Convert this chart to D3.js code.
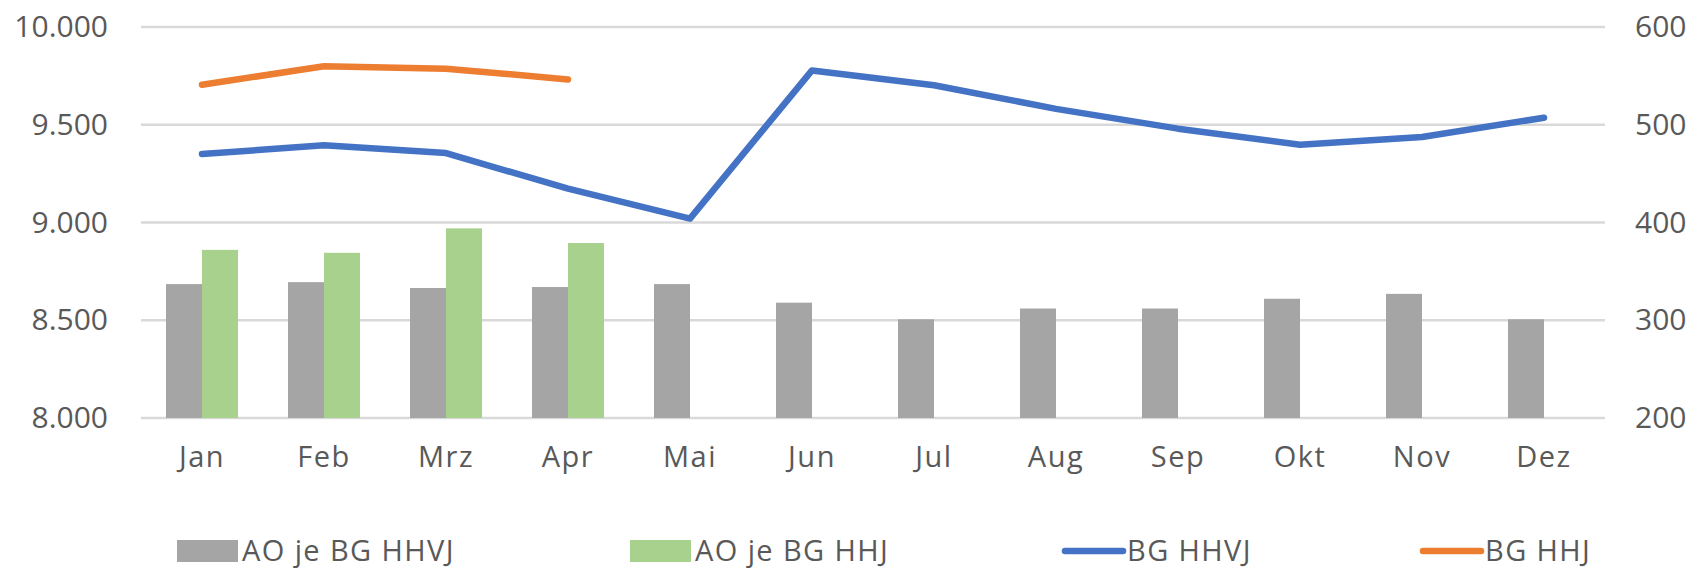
<!DOCTYPE html>
<html>
<head>
<meta charset="utf-8">
<script src="https://cdn.jsdelivr.net/npm/d3@7"></script>
<style>
  body { margin: 0; background: #fff; }
  text { font-family: "Open Sans", sans-serif; fill: #595959; }
</style>
</head>
<body>
<div class="canva"></div>
<script>
// daten
const monate = ['Jan','Feb','Mrz','Apr','Mai','Jun','Jul','Aug','Sep','Okt','Nov','Dez'];
const aoHHVJ = [337, 339, 333, 334, 337, 318, 301, 312, 312, 322, 327, 301];
const aoHHJ  = [372, 369, 394, 379, null, null, null, null, null, null, null, null];
const bgHHVJ = [9350, 9395, 9355, 9173, 9020, 9778, 9702, 9581, 9480, 9398, 9437, 9536];
const bgHHJ  = [9705, 9799, 9787, 9732, null, null, null, null, null, null, null, null];
const leftTicks  = [8000, 8500, 9000, 9500, 10000];
const rightTicks = [200, 300, 400, 500, 600];
const legende = ['AO je BG HHVJ', 'AO je BG HHJ', 'BG HHVJ', 'BG HHJ'];

const W = 1690, H = 568;
const m = {left: 141, right: 85, top: 27, bottom: 150};

const svg = d3.select('.canva').append('svg')
  .attr('width', W)
  .attr('height', H);

const x = d3.scaleBand()
  .domain(monate)
  .range([m.left, W - m.right])
  .paddingInner(0.41)
  .paddingOuter(0.205);

const xs = d3.scaleBand()
  .domain(['hhvj', 'hhj'])
  .range([0, x.bandwidth()]);

const yL = d3.scaleLinear().domain([8000, 10000]).range([H - m.bottom, m.top]);
const yR = d3.scaleLinear().domain([200, 600]).range([H - m.bottom, m.top]);

const de = d3.formatLocale({decimal: ',', thousands: '.', grouping: [3], currency: ['', '€']});

// gitterlinien
svg.append('g')
  .selectAll('line')
  .data(leftTicks)
  .enter()
  .append('line')
  .attr('x1', m.left)
  .attr('x2', W - m.right)
  .attr('y1', d => yL(d))
  .attr('y2', d => yL(d))
  .attr('stroke', '#d9d9d9')
  .attr('stroke-width', 2.5);

// achse links
const axL = svg.append('g')
  .attr('transform', `translate(${m.left},0)`)
  .call(d3.axisLeft(yL).tickValues(leftTicks).tickFormat(de.format(',.0f')).tickSize(0).tickPadding(33));
axL.select('.domain').remove();
axL.selectAll('text').style('font-size', '30px').attr('fill', '#595959');

// achse rechts
const axR = svg.append('g')
  .attr('transform', `translate(${W - m.right},0)`)
  .call(d3.axisRight(yR).tickValues(rightTicks).tickSize(0).tickPadding(30));
axR.select('.domain').remove();
axR.selectAll('text').style('font-size', '30px').attr('fill', '#595959');

// achse unten
const axB = svg.append('g')
  .attr('transform', `translate(0,${H - m.bottom})`)
  .call(d3.axisBottom(x).tickSize(0).tickPadding(28));
axB.select('.domain').remove();
axB.selectAll('text').style('font-size', '29px').style('letter-spacing', '1.5px').attr('fill', '#595959');

// balken
const gruppe = svg.append('g')
  .selectAll('g')
  .data(monate)
  .enter()
  .append('g')
  .attr('transform', d => `translate(${x(d)},0)`);

gruppe.append('rect')
  .attr('x', xs('hhvj'))
  .attr('y', (d, i) => yR(aoHHVJ[i]))
  .attr('width', xs.bandwidth())
  .attr('height', (d, i) => yR(200) - yR(aoHHVJ[i]))
  .attr('fill', '#a5a5a5');

gruppe.filter((d, i) => aoHHJ[i] != null)
  .append('rect')
  .attr('x', xs('hhj'))
  .attr('y', d => yR(aoHHJ[monate.indexOf(d)]))
  .attr('width', xs.bandwidth())
  .attr('height', d => yR(200) - yR(aoHHJ[monate.indexOf(d)]))
  .attr('fill', '#a9d18e');

// linien
const linie = d3.line()
  .defined(d => d[1] != null)
  .x(d => x(d[0]) + x.bandwidth() / 2)
  .y(d => yL(d[1]));

svg.append('path')
  .datum(monate.map((mo, i) => [mo, bgHHVJ[i]]))
  .attr('d', linie)
  .attr('fill', 'none')
  .attr('stroke', '#4472c4')
  .attr('stroke-width', 6.5)
  .attr('stroke-linejoin', 'round')
  .attr('stroke-linecap', 'round');

svg.append('path')
  .datum(monate.map((mo, i) => [mo, bgHHJ[i]]))
  .attr('d', linie)
  .attr('fill', 'none')
  .attr('stroke', '#ed7d31')
  .attr('stroke-width', 6.5)
  .attr('stroke-linejoin', 'round')
  .attr('stroke-linecap', 'round');

// legende
const legX = [177, 630, 1062, 1420];
const legFarbe = ['#a5a5a5', '#a9d18e', '#4472c4', '#ed7d31'];
const leg = svg.append('g')
  .selectAll('g')
  .data(legende)
  .enter()
  .append('g')
  .attr('transform', (d, i) => `translate(${legX[i]},551)`);

leg.filter((d, i) => i < 2)
  .append('rect')
  .attr('x', 0)
  .attr('y', -11)
  .attr('width', 61)
  .attr('height', 22)
  .attr('fill', (d, i) => legFarbe[i]);

leg.filter((d, i) => i >= 2)
  .append('line')
  .attr('x1', 3)
  .attr('x2', 61)
  .attr('y1', 0)
  .attr('y2', 0)
  .attr('stroke', (d, i) => legFarbe[i + 2])
  .attr('stroke-width', 6.5)
  .attr('stroke-linecap', 'round');

leg.append('text')
  .attr('x', 65)
  .attr('y', 10)
  .style('font-size', '29px')
  .style('letter-spacing', '1.4px')
  .text(d => d);
</script>
</body>
</html>
